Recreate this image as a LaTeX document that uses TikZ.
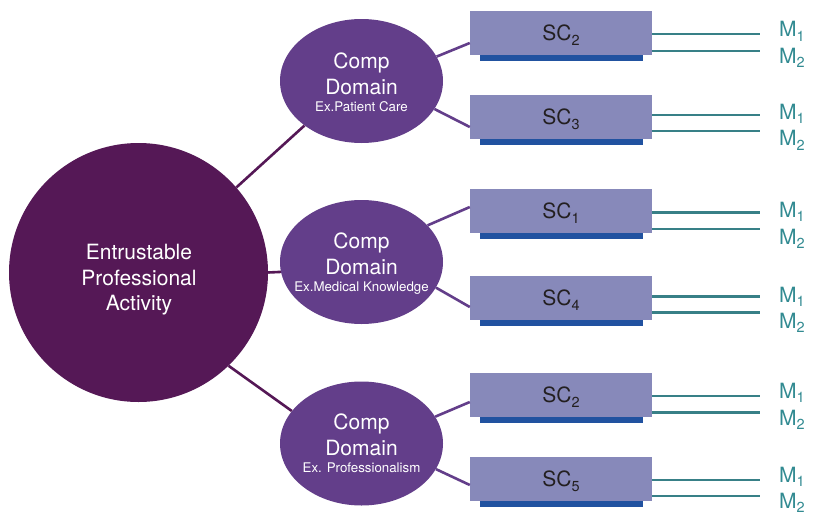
\documentclass[tikz,border=0pt]{standalone}
\usepackage{fontspec}
\setmainfont{TeX Gyre Heros}
\usetikzlibrary{shapes.geometric}

\definecolor{epacol}{HTML}{551856}
\definecolor{domcol}{HTML}{633E8A}
\definecolor{boxcol}{HTML}{8789BA}
\definecolor{barcol}{HTML}{2152A0}
\definecolor{mline}{HTML}{388087}
\definecolor{mtext}{HTML}{318A91}
\definecolor{sctext}{HTML}{231F20}

% lowered index in the running sans font
\newcommand\lowidx[1]{\raisebox{-4.5pt}{\fontsize{14.5}{14.5}\selectfont #1}}

\begin{document}
\begin{tikzpicture}[x=1pt,y=-1pt,
  epacircle/.style={circle, fill=epacol, draw=none, minimum size=259pt, inner sep=0pt},
  compdom/.style={ellipse, fill=domcol, draw=none, minimum width=163pt, minimum height=124pt, inner sep=0pt},
  domtext/.style={text=white, align=center, inner sep=0pt, font=\fontsize{21}{26}\selectfont},
  epatext/.style={text=white, align=center, inner sep=0pt, font=\fontsize{21}{25.5}\selectfont},
  scbox/.style={rectangle, fill=boxcol, draw=none, minimum width=182pt, minimum height=44pt,
    inner sep=0pt, text=sctext, text depth=0pt, font=\fontsize{21}{25}\selectfont},
  scbar/.style={rectangle, fill=barcol, draw=none, minimum width=163pt, minimum height=6pt,
    inner sep=0pt, anchor=north},
  epalink/.style={draw=epacol, line width=2.6pt},
  domlink/.style={draw=domcol, line width=2.6pt},
  mlink/.style={draw=mline, line width=2.5pt},
  mlabel/.style={text=mtext, anchor=base west, inner sep=0pt, font=\fontsize{21}{25}\selectfont}
]
\useasboundingbox (0,0) rectangle (816,514);

% activity and competency domains
\node[epacircle] (epa) at (138.5,272.5) {};
\node[epatext] (epat) at (139,280) {Entrustable\\Professional\\Activity};

\node[compdom] (e1) at (361.5,81) {};
\node[compdom] (e2) at (361.5,262) {};
\node[compdom] (e3) at (361.5,443.5) {};

\node[domtext] (e1t) at (361.5,82)
  {Comp\\Domain\\[-9.3pt]{\fontsize{13.3}{14}\selectfont Ex.Patient Care}};
\node[domtext] (e2t) at (361.5,263.5)
  {Comp\\Domain\\[-9.3pt]{\fontsize{13.3}{14}\selectfont Ex.Medical Knowledge}};
\node[domtext] (e3t) at (361.5,443.5)
  {Comp\\Domain\\[-9.3pt]{\fontsize{13.3}{14}\selectfont Ex. Professionalism}};

% sub-competency boxes with their underline bars
\foreach \n/\s/\cy in {1/2/33, 2/3/117, 3/1/211, 4/4/298, 5/2/395, 6/5/479} {
  \node[scbox] (b\n) at (561,\cy) {SC\lowidx{\s}};
  \node[scbar] (bar\n) at (b\n.south) {};
}

% milestone lines and labels
\foreach \n/\la/\lb/\ba/\bb in {1/34/51/36.7/63.3, 2/115/131/119/145.7,
    3/212.7/229/217/244, 4/296.3/312.3/302/328, 5/396/412.3/398/425, 6/480/496/482/508} {
  \coordinate (m\n-a) at (760,\la);
  \coordinate (m\n-b) at (760,\lb);
  \draw[mlink] (b\n.east |- m\n-a) -- (m\n-a);
  \draw[mlink] (b\n.east |- m\n-b) -- (m\n-b);
  \node[mlabel] (m\n-at) at (779,\ba) {M\lowidx{1}};
  \node[mlabel] (m\n-bt) at (779,\bb) {M\lowidx{2}};
}

% activity to domains
\draw[epalink] (epa.41) -- (e1.218);
\draw[epalink] (epa.0) -- (e2.187);
\draw[epalink] (epa.-46) -- (e3.155);

% domains to sub-competencies
\draw[domlink] (e1.18) -- ([yshift=-10pt]b1.west);
\draw[domlink] (e1.-21) -- ([yshift=-10pt]b2.west);
\draw[domlink] (e2.29) -- ([yshift=4pt]b3.west);
\draw[domlink] (e2.-19) -- ([yshift=-9pt]b4.west);
\draw[domlink] (e3.20) -- ([yshift=-7pt]b5.west);
\draw[domlink] (e3.-19) -- ([yshift=-6pt]b6.west);
\end{tikzpicture}
\end{document}
